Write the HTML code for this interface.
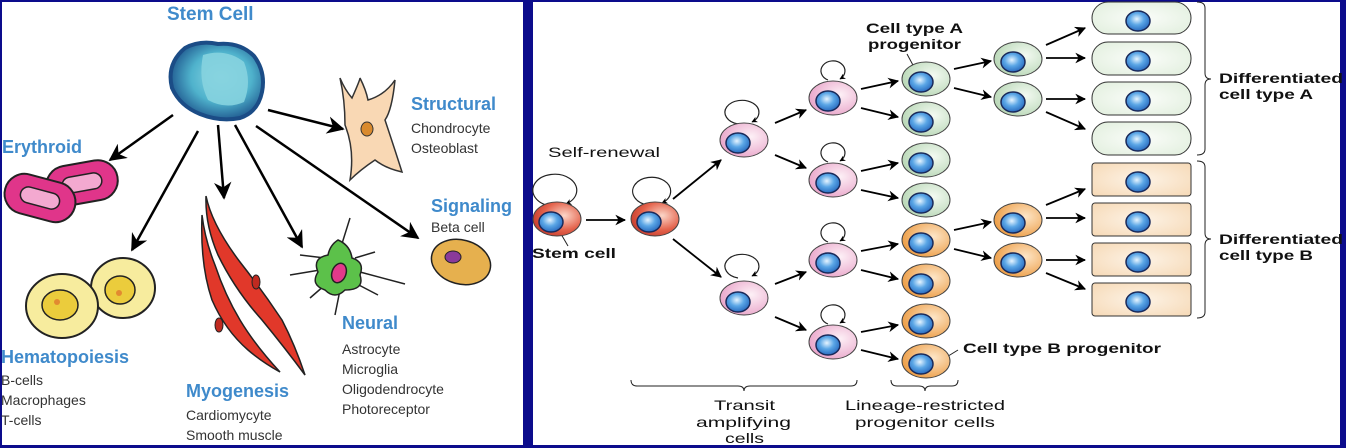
<!DOCTYPE html>
<html><head><meta charset="utf-8"><style>
html,body{margin:0;padding:0;background:#0c0c8c;}
svg{display:block;}
text{font-family:"Liberation Sans",sans-serif;}
</style></head><body>
<svg width="1346" height="448" viewBox="0 0 1346 448" xmlns="http://www.w3.org/2000/svg">
<defs>
<radialGradient id="nuc" cx="0.45" cy="0.4" r="0.6"><stop offset="0" stop-color="#e6f4ff"/><stop offset="0.5" stop-color="#5aa6e6"/><stop offset="1" stop-color="#2a6cc0"/></radialGradient>
<radialGradient id="red" cx="0.65" cy="0.4" r="0.7"><stop offset="0" stop-color="#fbd6c8"/><stop offset="0.6" stop-color="#e4634c"/><stop offset="1" stop-color="#c43a2c"/></radialGradient>
<radialGradient id="pink" cx="0.65" cy="0.4" r="0.7"><stop offset="0" stop-color="#fdf0f6"/><stop offset="1" stop-color="#e8a2c8"/></radialGradient>
<radialGradient id="green" cx="0.65" cy="0.4" r="0.7"><stop offset="0" stop-color="#f4faf2"/><stop offset="1" stop-color="#b6d6b4"/></radialGradient>
<radialGradient id="orange" cx="0.65" cy="0.4" r="0.7"><stop offset="0" stop-color="#fde6c8"/><stop offset="1" stop-color="#ec9a40"/></radialGradient>
<radialGradient id="pale" cx="0.5" cy="0.5" r="0.7"><stop offset="0" stop-color="#fbfdfa"/><stop offset="1" stop-color="#e0eedc"/></radialGradient>
<radialGradient id="tan" cx="0.5" cy="0.5" r="0.7"><stop offset="0" stop-color="#fdf3e6"/><stop offset="1" stop-color="#f6d9b6"/></radialGradient>
<radialGradient id="stem" cx="0.55" cy="0.45" r="0.6"><stop offset="0" stop-color="#8fd9e6"/><stop offset="0.55" stop-color="#4fb2cc"/><stop offset="1" stop-color="#1a4e88"/></radialGradient>
<marker id="ah" viewBox="0 0 10 10" refX="9" refY="5" markerWidth="5" markerHeight="5" orient="auto"><path d="M0,0 L10,5 L0,10 L3,5z" fill="#000"/></marker>
<marker id="ahb" viewBox="0 0 10 10" refX="9" refY="5" markerWidth="6" markerHeight="6" orient="auto"><path d="M0,0 L10,5 L0,10 L3,5z" fill="#000"/></marker>
<marker id="ahs" viewBox="0 0 10 10" refX="9" refY="5" markerWidth="7" markerHeight="7" orient="auto"><path d="M0,0 L10,5 L0,10 L3,5z" fill="#000"/></marker>
</defs>

<rect x="2" y="2" width="521" height="443" fill="#fff"/>
<rect x="533" y="2" width="807" height="443" fill="#fff"/>

<!-- LEFT PANEL -->
<g font-weight="bold" fill="#3f8acb">
<text x="167" y="20" font-size="19">Stem Cell</text>
<text x="2" y="153" font-size="18">Erythroid</text>
<text x="411" y="110" font-size="18">Structural</text>
<text x="431" y="212" font-size="18">Signaling</text>
<text x="1" y="363" font-size="18">Hematopoiesis</text>
<text x="186" y="397" font-size="18">Myogenesis</text>
<text x="342" y="329" font-size="18">Neural</text>
</g>
<g font-size="14" fill="#333">
<text x="411" y="133">Chondrocyte</text><text x="411" y="153">Osteoblast</text>
<text x="431" y="232">Beta cell</text>
<text x="1" y="385">B-cells</text><text x="1" y="405">Macrophages</text><text x="1" y="425">T-cells</text>
<text x="186" y="420">Cardiomycyte</text><text x="186" y="440">Smooth muscle</text>
<text x="342" y="354">Astrocyte</text><text x="342" y="374">Microglia</text><text x="342" y="394">Oligodendrocyte</text><text x="342" y="414">Photoreceptor</text>
</g>
<!-- stem blob -->
<path d="M185,48 Q200,40 218,44 Q240,42 254,56 Q266,72 262,92 Q258,112 240,118 Q220,122 200,114 Q180,106 172,88 Q166,64 185,48z" fill="url(#stem)" stroke="#1b4c86" stroke-width="4"/>
<path d="M203,55 Q226,48 244,62 Q252,82 244,102 Q226,110 208,100 Q198,80 203,55z" fill="#86d3df" opacity="0.9"/>
<g stroke="#000" stroke-width="2.5" fill="none">
<line x1="173" y1="115" x2="110" y2="160" marker-end="url(#ahs)"/>
<line x1="198" y1="131" x2="132" y2="250" marker-end="url(#ahs)"/>
<line x1="218" y1="125" x2="224" y2="198" marker-end="url(#ahs)"/>
<line x1="235" y1="125" x2="302" y2="247" marker-end="url(#ahs)"/>
<line x1="256" y1="126" x2="418" y2="238" marker-end="url(#ahs)"/>
<line x1="268" y1="110" x2="343" y2="129" marker-end="url(#ahs)"/>
</g>
<!-- erythroid -->
<rect x="46" y="163" width="72" height="40" rx="20" transform="rotate(-10 82 183)" fill="#e0358a" stroke="#222" stroke-width="2"/>
<rect x="62" y="175" width="40" height="16" rx="8" transform="rotate(-10 82 183)" fill="#f3a9d0" stroke="#222" stroke-width="1.5"/>
<rect x="4" y="178" width="72" height="40" rx="20" transform="rotate(15 40 198)" fill="#e0358a" stroke="#222" stroke-width="2"/>
<rect x="20" y="190" width="40" height="16" rx="8" transform="rotate(15 40 198)" fill="#f3a9d0" stroke="#222" stroke-width="1.5"/>
<!-- hematopoiesis -->
<ellipse cx="123" cy="288" rx="32" ry="30" fill="#f7ec9e" stroke="#222" stroke-width="2"/>
<ellipse cx="120" cy="290" rx="15" ry="14" fill="#ebcc3c" stroke="#222" stroke-width="1.5"/>
<circle cx="119" cy="293" r="3" fill="#e28a30"/>
<ellipse cx="62" cy="306" rx="36" ry="32" fill="#f7ec9e" stroke="#222" stroke-width="2"/>
<ellipse cx="60" cy="305" rx="18" ry="15" fill="#ebcc3c" stroke="#222" stroke-width="1.5"/>
<circle cx="57" cy="302" r="3" fill="#e28a30"/>
<!-- muscle -->
<path d="M206,196 Q212,225 240,262 Q262,290 282,320 Q295,345 305,375 Q285,348 262,320 Q235,290 218,255 Q205,225 206,196z" fill="#e1382a" stroke="#222" stroke-width="1.5"/>
<path d="M202,215 Q200,265 212,300 Q225,330 248,350 Q262,362 280,372 Q255,345 240,320 Q225,295 215,265 Q205,240 202,215z" fill="#e1382a" stroke="#222" stroke-width="1.5"/>
<ellipse cx="256" cy="282" rx="4" ry="7" fill="#c02a20" stroke="#222" stroke-width="1"/>
<ellipse cx="219" cy="325" rx="4" ry="7" fill="#c02a20" stroke="#222" stroke-width="1"/>
<!-- neural -->
<g stroke="#222" stroke-width="1.5">
<line x1="340" y1="250" x2="350" y2="218"/><line x1="325" y1="258" x2="300" y2="255"/><line x1="320" y1="270" x2="290" y2="275"/><line x1="325" y1="285" x2="310" y2="298"/><line x1="340" y1="290" x2="335" y2="315"/><line x1="355" y1="283" x2="378" y2="295"/><line x1="360" y1="272" x2="405" y2="284"/><line x1="355" y1="258" x2="375" y2="252"/>
</g>
<path d="M338,240 Q350,245 352,258 Q365,262 360,275 Q365,290 345,290 Q335,300 325,290 Q310,285 318,272 Q312,258 328,255 Q330,245 338,240z" fill="#5cc14a" stroke="#222" stroke-width="1.5"/>
<ellipse cx="339" cy="273" rx="7" ry="10" transform="rotate(20 339 273)" fill="#e23a8a" stroke="#222" stroke-width="1.5"/>
<!-- beta -->
<ellipse cx="461" cy="262" rx="30" ry="22" transform="rotate(15 461 262)" fill="#e6b04e" stroke="#222" stroke-width="1.5"/>
<ellipse cx="453" cy="257" rx="8" ry="6" fill="#8a3a9a" stroke="#222" stroke-width="1"/>
<!-- structural -->
<path d="M340,78 Q345,90 352,98 Q360,80 360,78 Q366,90 368,100 Q385,95 395,80 Q392,110 385,120 Q395,150 402,172 Q385,168 375,160 Q360,170 350,180 Q355,150 345,125 Q345,100 340,78z" fill="#f9d8b4" stroke="#333" stroke-width="1.5"/>
<ellipse cx="367" cy="129" rx="6" ry="7" fill="#d98a2e" stroke="#333" stroke-width="1"/>

<!-- RIGHT PANEL -->
<g font-size="14" fill="#111">
<text x="548" y="157" textLength="112" lengthAdjust="spacingAndGlyphs">Self-renewal</text>
<text x="714" y="410" textLength="61" lengthAdjust="spacingAndGlyphs">Transit</text>
<text x="696" y="427" textLength="95" lengthAdjust="spacingAndGlyphs">amplifying</text>
<text x="725" y="443" textLength="39" lengthAdjust="spacingAndGlyphs">cells</text>
<text x="845" y="410" textLength="160" lengthAdjust="spacingAndGlyphs">Lineage-restricted</text>
<text x="855" y="427" textLength="140" lengthAdjust="spacingAndGlyphs">progenitor cells</text>
</g>
<g font-size="14" fill="#111" font-weight="bold">
<text x="532" y="258" textLength="84" lengthAdjust="spacingAndGlyphs">Stem cell</text>
<text x="866" y="33" textLength="97" lengthAdjust="spacingAndGlyphs">Cell type A</text>
<text x="868" y="49" textLength="93" lengthAdjust="spacingAndGlyphs">progenitor</text>
<text x="963" y="353" textLength="198" lengthAdjust="spacingAndGlyphs">Cell type B progenitor</text>
<text x="1219" y="83" textLength="124" lengthAdjust="spacingAndGlyphs">Differentiated</text><text x="1219" y="99" textLength="94" lengthAdjust="spacingAndGlyphs">cell type A</text>
<text x="1219" y="244" textLength="124" lengthAdjust="spacingAndGlyphs">Differentiated</text><text x="1219" y="260" textLength="94" lengthAdjust="spacingAndGlyphs">cell type B</text>
</g>
<g stroke="#222" stroke-width="1" fill="none">
<line x1="561" y1="234" x2="568" y2="246"/>
<line x1="907" y1="54" x2="914" y2="67"/>
<line x1="945" y1="358" x2="958" y2="350"/>
<path d="M631,380 Q631,386 637,386 L738,386 Q744,386 744,391 Q744,386 750,386 L851,386 Q857,386 857,380"/>
<path d="M891,380 Q891,386 897,386 L919,386 Q925,386 925,391 Q925,386 931,386 L952,386 Q958,386 958,380"/>
<path d="M1197,2 Q1205,2 1205,8 L1205,73 Q1205,79 1211,79 Q1205,79 1205,85 L1205,149 Q1205,155 1197,155"/>
<path d="M1197,161 Q1205,161 1205,167 L1205,233 Q1205,239 1211,239 Q1205,239 1205,245 L1205,312 Q1205,318 1197,318"/>
<path d="M551,206 A22,16 0 1 1 566,204" stroke-width="1.2" marker-end="url(#ah)"/>
<path d="M648,205 A19,14 0 1 1 662,203" stroke-width="1.2" marker-end="url(#ah)"/>
<path d="M738,124 A17,12 0 1 1 752,122" stroke-width="1.2" marker-end="url(#ah)"/>
<path d="M738,278 A17,12 0 1 1 752,276" stroke-width="1.2" marker-end="url(#ah)"/>
<path d="M828,80 A12,10 0 1 1 840,79" stroke-width="1.2" marker-end="url(#ah)"/>
<path d="M828,162 A12,10 0 1 1 840,161" stroke-width="1.2" marker-end="url(#ah)"/>
<path d="M828,242 A12,10 0 1 1 840,241" stroke-width="1.2" marker-end="url(#ah)"/>
<path d="M828,324 A12,10 0 1 1 840,323" stroke-width="1.2" marker-end="url(#ah)"/>
</g>
<g stroke="#000" stroke-width="1.8" marker-end="url(#ahb)">
<line x1="586" y1="220" x2="625" y2="220"/>
<line x1="673" y1="199" x2="721" y2="160"/>
<line x1="673" y1="239" x2="721" y2="277"/>
<line x1="775" y1="123" x2="806" y2="110"/>
<line x1="775" y1="155" x2="806" y2="168"/>
<line x1="775" y1="284" x2="806" y2="272"/>
<line x1="775" y1="317" x2="806" y2="330"/>
<line x1="861" y1="89" x2="898" y2="81"/>
<line x1="861" y1="108" x2="898" y2="117"/>
<line x1="861" y1="171" x2="898" y2="163"/>
<line x1="861" y1="190" x2="898" y2="198"/>
<line x1="861" y1="251" x2="898" y2="244"/>
<line x1="861" y1="270" x2="898" y2="279"/>
<line x1="861" y1="332" x2="898" y2="325"/>
<line x1="861" y1="350" x2="898" y2="359"/>
<line x1="954" y1="69" x2="991" y2="61"/>
<line x1="954" y1="88" x2="991" y2="97"/>
<line x1="1046" y1="45" x2="1085" y2="28"/>
<line x1="1046" y1="58" x2="1085" y2="58"/>
<line x1="1046" y1="99" x2="1085" y2="99"/>
<line x1="1046" y1="112" x2="1085" y2="129"/>
<line x1="954" y1="230" x2="991" y2="222"/>
<line x1="954" y1="249" x2="991" y2="258"/>
<line x1="1046" y1="205" x2="1085" y2="189"/>
<line x1="1046" y1="218" x2="1085" y2="218"/>
<line x1="1046" y1="260" x2="1085" y2="260"/>
<line x1="1046" y1="273" x2="1085" y2="289"/>
</g>
<g stroke="#333" stroke-width="1" fill="url(#pale)">
<rect x="1092" y="2" width="99" height="32" rx="16"/>
<rect x="1092" y="42" width="99" height="33" rx="16"/>
<rect x="1092" y="82" width="99" height="33" rx="16"/>
<rect x="1092" y="122" width="99" height="33" rx="16"/>
</g>
<g stroke="#333" stroke-width="1" fill="url(#tan)">
<rect x="1092" y="163" width="99" height="33" rx="3"/>
<rect x="1092" y="203" width="99" height="33" rx="3"/>
<rect x="1092" y="243" width="99" height="33" rx="3"/>
<rect x="1092" y="283" width="99" height="33" rx="3"/>
</g>
<g stroke="#1a2a5a" stroke-width="1.5" fill="url(#nuc)">
<ellipse cx="1138" cy="21" rx="12" ry="10"/><ellipse cx="1138" cy="61" rx="12" ry="10"/><ellipse cx="1138" cy="101" rx="12" ry="10"/><ellipse cx="1138" cy="141" rx="12" ry="10"/>
<ellipse cx="1138" cy="182" rx="12" ry="10"/><ellipse cx="1138" cy="222" rx="12" ry="10"/><ellipse cx="1138" cy="262" rx="12" ry="10"/><ellipse cx="1138" cy="302" rx="12" ry="10"/>
</g>
<g stroke="#444" stroke-width="1">
<ellipse cx="557" cy="219" rx="24" ry="17" fill="url(#red)"/>
<ellipse cx="655" cy="219" rx="24" ry="17" fill="url(#red)"/>
<ellipse cx="744" cy="140" rx="24" ry="17" fill="url(#pink)"/>
<ellipse cx="744" cy="298" rx="24" ry="17" fill="url(#pink)"/>
<ellipse cx="833" cy="98" rx="24" ry="17" fill="url(#pink)"/>
<ellipse cx="833" cy="180" rx="24" ry="17" fill="url(#pink)"/>
<ellipse cx="833" cy="260" rx="24" ry="17" fill="url(#pink)"/>
<ellipse cx="833" cy="342" rx="24" ry="17" fill="url(#pink)"/>
<ellipse cx="926" cy="79" rx="24" ry="17" fill="url(#green)"/>
<ellipse cx="926" cy="119" rx="24" ry="17" fill="url(#green)"/>
<ellipse cx="926" cy="160" rx="24" ry="17" fill="url(#green)"/>
<ellipse cx="926" cy="200" rx="24" ry="17" fill="url(#green)"/>
<ellipse cx="926" cy="240" rx="24" ry="17" fill="url(#orange)"/>
<ellipse cx="926" cy="281" rx="24" ry="17" fill="url(#orange)"/>
<ellipse cx="926" cy="321" rx="24" ry="17" fill="url(#orange)"/>
<ellipse cx="926" cy="361" rx="24" ry="17" fill="url(#orange)"/>
<ellipse cx="1018" cy="59" rx="24" ry="17" fill="url(#green)"/>
<ellipse cx="1018" cy="99" rx="24" ry="17" fill="url(#green)"/>
<ellipse cx="1018" cy="220" rx="24" ry="17" fill="url(#orange)"/>
<ellipse cx="1018" cy="260" rx="24" ry="17" fill="url(#orange)"/>
</g>
<g stroke="#1a2a5a" stroke-width="1.5" fill="url(#nuc)">
<ellipse cx="551" cy="222" rx="12" ry="10"/>
<ellipse cx="649" cy="222" rx="12" ry="10"/>
<ellipse cx="738" cy="143" rx="12" ry="10"/>
<ellipse cx="738" cy="302" rx="12" ry="10"/>
<ellipse cx="828" cy="101" rx="12" ry="10"/>
<ellipse cx="828" cy="183" rx="12" ry="10"/>
<ellipse cx="828" cy="263" rx="12" ry="10"/>
<ellipse cx="828" cy="345" rx="12" ry="10"/>
<ellipse cx="921" cy="82" rx="12" ry="10"/>
<ellipse cx="921" cy="122" rx="12" ry="10"/>
<ellipse cx="921" cy="163" rx="12" ry="10"/>
<ellipse cx="921" cy="203" rx="12" ry="10"/>
<ellipse cx="921" cy="243" rx="12" ry="10"/>
<ellipse cx="921" cy="284" rx="12" ry="10"/>
<ellipse cx="921" cy="324" rx="12" ry="10"/>
<ellipse cx="921" cy="364" rx="12" ry="10"/>
<ellipse cx="1013" cy="62" rx="12" ry="10"/>
<ellipse cx="1013" cy="102" rx="12" ry="10"/>
<ellipse cx="1013" cy="223" rx="12" ry="10"/>
<ellipse cx="1013" cy="263" rx="12" ry="10"/>
</g>
</svg>
</body></html>
